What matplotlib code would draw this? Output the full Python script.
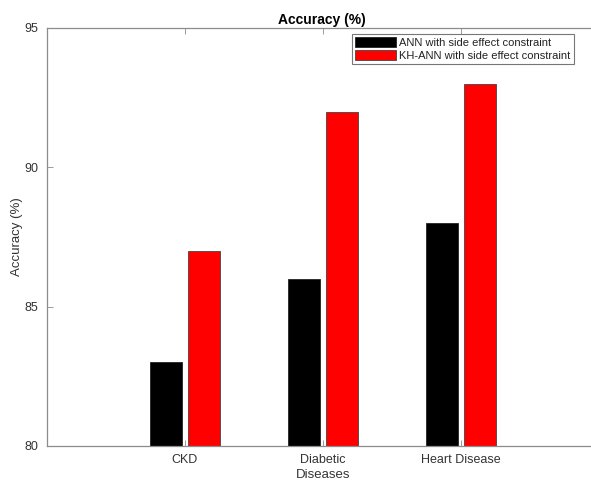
import numpy as np
import matplotlib.pyplot as plt

# data
diseases = ['CKD', 'Diabetic', 'Heart Disease']
ann = [83, 86, 88]
kh_ann = [87, 92, 93]
series_names = ['ANN with side effect constraint', 'KH-ANN with side effect constraint']

plt.rcParams['font.family'] = ['Liberation Sans', 'DejaVu Sans']

W, H = 591, 483
fig = plt.figure(figsize=(W / 100, H / 100), dpi=100)
# axes: left spine at 47px, x=4 at ~599px (outside the picture), y from 28 to 446
ax = fig.add_axes([47 / W, 1 - 446 / H, (599 - 47) / W, (446 - 28) / H])

x = np.arange(1, len(diseases) + 1)
w = 0.23
ax.bar(x - 0.14, ann, w, color='black', edgecolor='#222222', linewidth=0.6,
       label=series_names[0], zorder=2)
ax.bar(x + 0.14, kh_ann, w, color='#ff0000', edgecolor='#444444', linewidth=0.6,
       label=series_names[1], zorder=2)

ax.set_xlim(0, 4)
ax.set_ylim(80, 95)
ax.set_xticks(x)
ax.set_xticklabels(diseases)
ax.set_yticks([80, 85, 90, 95])

grey = '#8c8c8c'
for side in ['left', 'bottom', 'top']:
    ax.spines[side].set_color(grey)
    ax.spines[side].set_linewidth(0.9)
ax.spines['right'].set_visible(False)
ax.tick_params(direction='in', length=4, width=0.6, color=grey,
               labelsize=9, labelcolor='#333333', pad=6, top=True, right=True)

ax.set_title('Accuracy (%)', fontsize=10, fontweight='bold', color='black', x=(322 - 47) / (599 - 47), pad=3)
ax.set_xlabel('Diseases', fontsize=9.5, color='#333333', labelpad=2)
ax.set_ylabel('Accuracy (%)', fontsize=9.5, color='#333333', labelpad=1.5)

leg = ax.legend(loc='upper right', bbox_to_anchor=(574 / W, 1 - 34 / H), bbox_transform=fig.transFigure,
                fontsize=8, frameon=True, fancybox=False, handlelength=3.7, handleheight=1.0,
                handletextpad=0.3, borderpad=0.3, labelspacing=0.2, borderaxespad=0)
leg.get_frame().set_edgecolor('#555555')
leg.get_frame().set_linewidth(0.8)
for t in leg.get_texts():
    t.set_color('#222222')

fig.savefig('out.png', dpi=100)
